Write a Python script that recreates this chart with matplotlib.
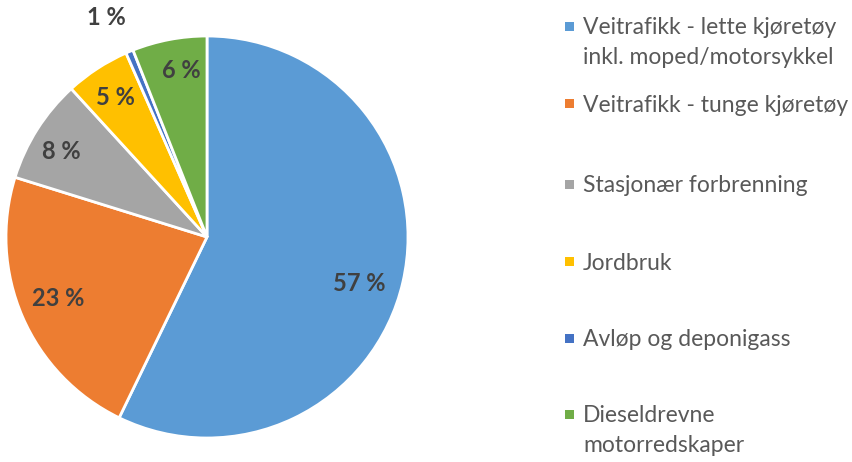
import numpy as np
import matplotlib
matplotlib.use("Agg")
import matplotlib.pyplot as plt
from matplotlib.patches import Rectangle

categories = [
    "Veitrafikk - lette kjøretøy\ninkl. moped/motorsykkel",
    "Veitrafikk - tunge kjøretøy",
    "Stasjonær forbrenning",
    "Jordbruk",
    "Avløp og deponigass",
    "Dieseldrevne\nmotorredskaper",
]
values = [57.2, 22.6, 8.4, 5.2, 0.6, 6.0]
pct_labels = ["57 %", "23 %", "8 %", "5 %", "1 %", "6 %"]
colors = ["#5B9BD5", "#ED7D31", "#A5A5A5", "#FFC000", "#4472C4", "#70AD47"]

W, H = 853, 462
fig = plt.figure(figsize=(W / 100, H / 100), dpi=100)
plt.rcParams['font.family'] = ['Lato', 'DejaVu Sans']

cx, cy, R = 207, 237, 201
ax = fig.add_axes([(cx - R) / W, (H - cy - R) / H, 2 * R / W, 2 * R / H])
wedges, _ = ax.pie(values, colors=colors, startangle=90, counterclock=False,
                   radius=1.0, wedgeprops=dict(edgecolor="white", linewidth=2))
ax.set_xlim(-1, 1)
ax.set_ylim(-1, 1)
ax.set_aspect("equal")
ax.axis("off")

label_dist = [0.79, 0.80, 0.84, 0.83, 1.20, 0.84]
label_angle_shift = [-4, -1, 2, 0, 2, -2]
for w, lab, d, sh in zip(wedges, pct_labels, label_dist, label_angle_shift):
    ang = np.deg2rad((w.theta1 + w.theta2) / 2 + sh)
    ax.text(d * np.cos(ang), d * np.sin(ang), lab, ha="center", va="center",
            fontsize=17, fontweight="bold", color="#404040", clip_on=False)

# legend
entry_y = [26, 103, 184, 261, 338, 414]
sq_x, sq = 565, 9
text_x = 583
line_gap = 30
for lab, col, y in zip(categories, colors, entry_y):
    fig.patches.append(Rectangle((sq_x / W, (H - y - sq / 2) / H), sq / W, sq / H,
                                 transform=fig.transFigure, facecolor=col,
                                 edgecolor="none"))
    for i, line in enumerate(lab.split("\n")):
        fig.text(text_x / W, (H - (y + 8.5 + i * line_gap)) / H, line,
                 ha="left", va="baseline", fontsize=16.5, color="#595959")

fig.savefig("out.png", dpi=100)
